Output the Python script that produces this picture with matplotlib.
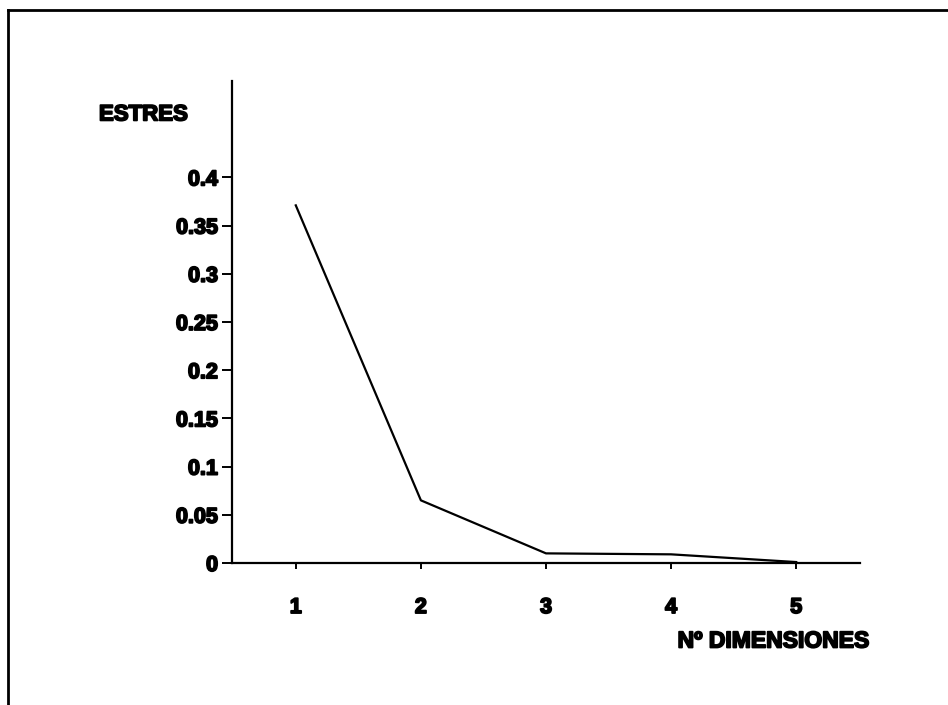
import matplotlib
matplotlib.use("Agg")
import matplotlib.pyplot as plt
import matplotlib.patheffects as pe
from matplotlib.lines import Line2D

# data
dimensiones = [1, 2, 3, 4, 5]
estres = [0.371, 0.065, 0.010, 0.009, 0.001]
yticks = [0, 0.05, 0.1, 0.15, 0.2, 0.25, 0.3, 0.35, 0.4]
ytick_labels = ['0', '0.05', '0.1', '0.15', '0.2', '0.25', '0.3', '0.35', '0.4']

plt.rcParams['font.family'] = ['Liberation Sans', 'DejaVu Sans']
plt.rcParams['font.weight'] = 'bold'

# heavier look, like the black typeface of the original
heavy = [pe.withStroke(linewidth=1.3, foreground='black')]

fig = plt.figure(figsize=(9.48, 7.05), dpi=100)
ax = fig.add_axes([0.2447, 0.2014, 0.6625, 0.6837])

ax.plot(dimensiones, estres, color='black', linewidth=1.6)

ax.set_xlim(0.49, 5.51)
ax.set_ylim(0, 0.5)
ax.set_xticks(dimensiones)
ax.set_xticklabels([str(d) for d in dimensiones])
ax.set_yticks(yticks)
ax.set_yticklabels(ytick_labels)

for s in ['top', 'right']:
    ax.spines[s].set_visible(False)
for s in ['left', 'bottom']:
    ax.spines[s].set_linewidth(1.6)

ax.tick_params(axis='y', direction='out', length=7, width=1.4, pad=3, labelsize=15.5)
ax.tick_params(axis='x', direction='out', length=4.5, width=1.4, pad=20, labelsize=15.5)
for lab in ax.get_xticklabels() + ax.get_yticklabels():
    lab.set_fontweight('bold')
    lab.set_path_effects(heavy)

# axis titles
fig.text(0.1044, 0.837, 'ESTRES', fontsize=16, fontweight='bold', ha='left', va='center',
         path_effects=heavy)
fig.text(0.8154, 0.0908, 'Nº DIMENSIONES', fontsize=16.5, fontweight='bold', ha='center',
         va='center', path_effects=heavy)

# frame lines along top and left edge
fig.add_artist(Line2D([0.0085, 1.0], [1 - 10 / 705, 1 - 10 / 705], transform=fig.transFigure,
                      color='black', linewidth=2))
fig.add_artist(Line2D([0.0085, 0.0085], [0.0, 1 - 10 / 705], transform=fig.transFigure,
                      color='black', linewidth=2))

fig.savefig('out.png', dpi=100)
